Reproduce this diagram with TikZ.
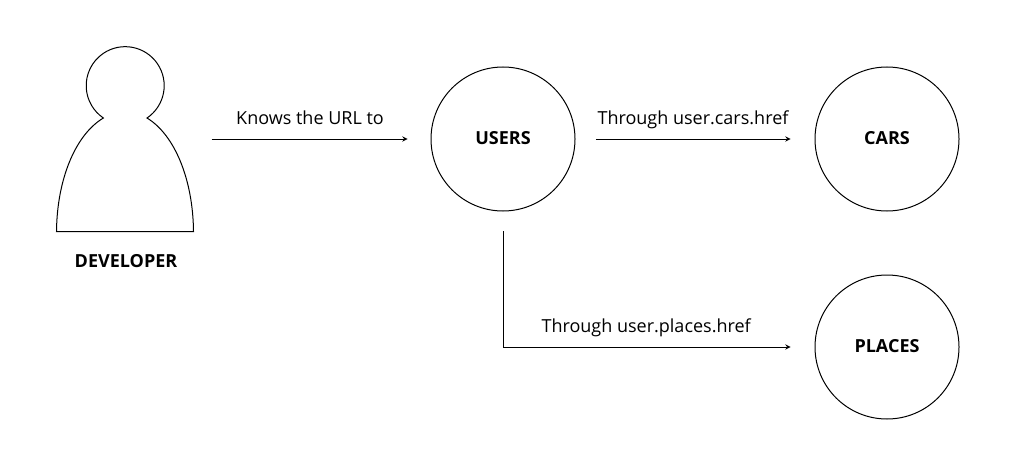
\documentclass[tikz,border=0pt]{standalone}
\usepackage{fontspec}
\setmainfont{Open Sans}
\usetikzlibrary{arrows,positioning}
\tikzset{%
	stage/.style    = {draw, circle, minimum size = 108pt, inner sep = 0pt, text depth = 1.5pt, font = \fontsize{13.5}{16}\selectfont\bfseries},
	person/.style   = {rectangle, minimum width = 102pt, minimum height = 138pt, inner sep = 0pt},
	caption/.style  = {font = \fontsize{13.5}{16}\selectfont\bfseries},
	linktext/.style = {above = 4.5pt, xshift = -1.5pt, text height = 10pt, text depth = 3pt, font = \fontsize{13.5}{16}\selectfont},
	waypoint/.style = {coordinate},
	arrow/.style    = {-stealth, line width = 0.75pt},
}
\begin{document}
\begin{tikzpicture}[x = 0.75pt, y = 0.75pt, line width = 0.75pt, every node/.style = {text = black}]
	\useasboundingbox (0,0) rectangle (1024,-467);
	\node[person] (developer) at (125,-139) {};
	\node[stage,right of=developer,node distance=283.5pt] (users) {USERS};
	\node[stage,right of=users,node distance=288pt] (cars) {CARS};
	\node[stage,below of=cars,node distance=156pt] (places) {PLACES};
	\node[caption,below of=developer,node distance=91.75pt,xshift=0.75pt] (name) {DEVELOPER};
	\node[waypoint,below of=users,node distance=69pt] (wp1) {};
	
	% figure of the developer
	\draw (developer.south west) -- (developer.south east)
		.. controls (193,-180) and (175,-135) .. (147,-118)
		arc[start angle=-56,end angle=236,radius=39]
		.. controls (75,-135) and (57,-180) .. (developer.south west) -- cycle;
	
	\draw[arrow,shorten <=13.5pt,shorten >=17.25pt] (developer) -- node[linktext] {Knows the URL to} (users);
	\draw[arrow,shorten <=15.25pt,shorten >=18pt] (users) -- node[linktext] {Through user.cars.href} (cars);
	\draw[arrow,shorten >=18pt] (wp1) |- node[pos=0.733,linktext] {Through user.places.href} (places);
\end{tikzpicture}
\end{document}
